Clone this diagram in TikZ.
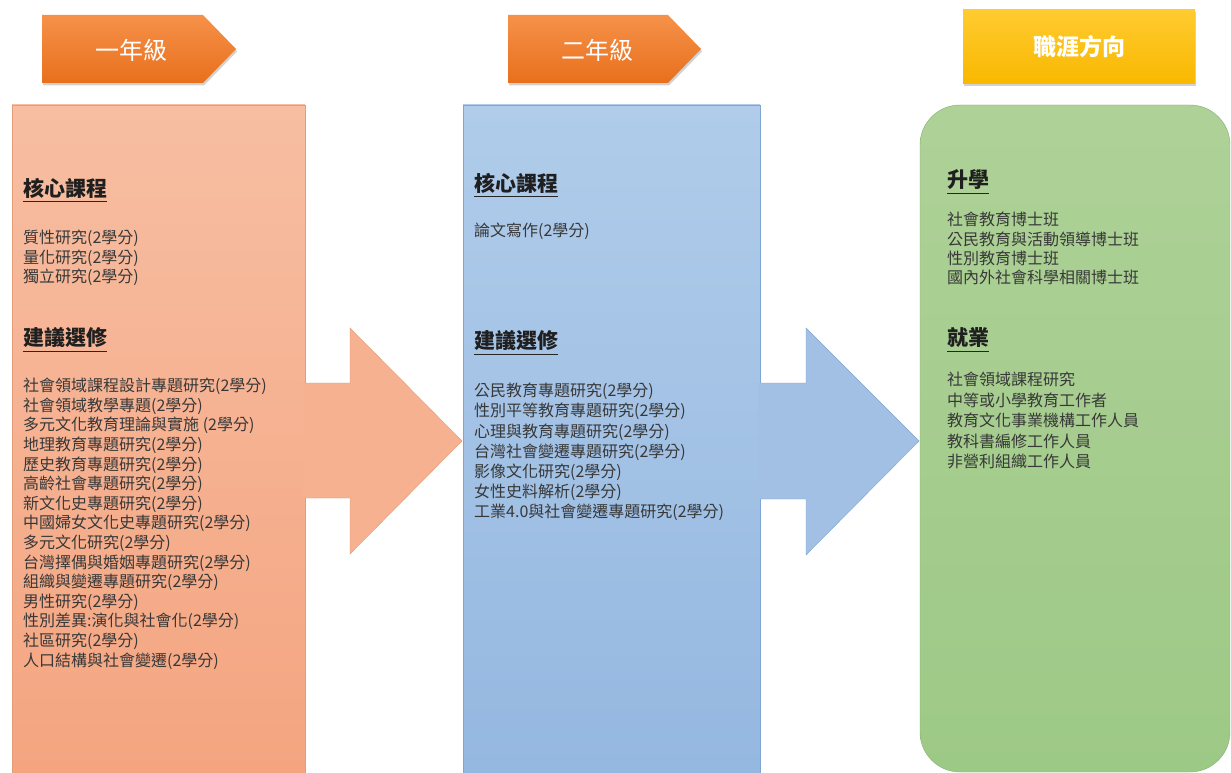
\documentclass[tikz,border=0pt]{standalone}
\usepackage{fontspec}
\setmainfont{Noto Sans CJK TC}
\usetikzlibrary{shadows,positioning}
\definecolor{hdtop}{HTML}{F6914A}
\definecolor{hdbot}{HTML}{E8701C}
\definecolor{ylwtop}{HTML}{FFCB30}
\definecolor{ylwbot}{HTML}{F9B800}
\definecolor{salmontop}{HTML}{F7BEA2}
\definecolor{salmonbot}{HTML}{F4A47F}
\definecolor{salmonline}{HTML}{E39B78}
\definecolor{bluetop}{HTML}{B0CCEA}
\definecolor{bluebot}{HTML}{94B7E0}
\definecolor{blueline}{HTML}{80A5D2}
\definecolor{greentop}{HTML}{AED197}
\definecolor{greenbot}{HTML}{9DC986}
\definecolor{greenline}{HTML}{86B06F}
\definecolor{bodytext}{HTML}{383838}
\tikzset{
  hdshadow/.style={drop shadow={shadow xshift=1pt,shadow yshift=-2.5pt,opacity=0.35}},
  hdtext/.style={text=white,inner sep=0pt,font=\fontsize{24}{24}\selectfont},
  sectitle/.style={anchor=west,inner sep=0pt,text=black!88,font=\fontsize{21}{21}\selectfont\bfseries},
  itemlist/.style={anchor=north west,inner sep=0pt,align=left,text=bodytext,font=\fontsize{16}{19.6}\selectfont},
  uline/.style={draw=black!85,line width=1pt},
}
\begin{document}
\begin{tikzpicture}[x=1pt,y=-1pt]
    \useasboundingbox (0,0) rectangle (1231,773);
    \fill[white] (0,0) rectangle (1231,773);

    \path[hdshadow,top color=hdtop,bottom color=hdbot] (42,15) -- (203,15) -- (236,49) -- (203,83) -- (42,83) -- cycle;
    \node[hdtext] (year1) at (131,50) {一年級};
    \path[hdshadow,top color=hdtop,bottom color=hdbot] (508,15) -- (668,15) -- (701,49) -- (668,83) -- (508,83) -- cycle;
    \node[hdtext] (year2) at (597,50) {二年級};
    \path[hdshadow,top color=ylwtop,bottom color=ylwbot] (963,10) rectangle (1195,84);
    \node[hdtext,font=\fontsize{23}{23}\selectfont\bfseries] (career) at (1079,47) {職涯方向};

    \draw[salmonline,top color=salmontop,bottom color=salmonbot] (12,105) rectangle (305,790);
    \draw[blueline,top color=bluetop,bottom color=bluebot] (463,105) rectangle (760,790);
    \draw[greenline,rounded corners=40pt,top color=greentop,bottom color=greenbot] (920,105) rectangle (1230,772);

    \fill[color=salmontop!50!salmonbot] (303,383) -- (350,383) -- (350,328) -- (462,441) -- (350,554) -- (350,498) -- (303,498) -- cycle;
    \draw[salmonline] (305,383) -- (350,383) -- (350,328) -- (462,441) -- (350,554) -- (350,498) -- (305,498);
    \fill[color=bluetop!45!bluebot] (758,383) -- (806,383) -- (806,328) -- (919,441) -- (806,555) -- (806,499) -- (758,499) -- cycle;
    \draw[blueline] (760,383) -- (806,383) -- (806,328) -- (919,441) -- (806,555) -- (806,499) -- (760,499);

    \node[sectitle] (core1) at (23,188) {核心課程};
    \draw[uline] ([yshift=-3pt]core1.south west) -- ([yshift=-3pt]core1.south east);
    \node[itemlist] (corelist1) at (23,230) {質性研究(2學分)\\量化研究(2學分)\\獨立研究(2學分)};
    \node[sectitle] (elect1) at (23,338) {建議選修};
    \draw[uline] ([yshift=-3pt]elect1.south west) -- ([yshift=-3pt]elect1.south east);
    \node[itemlist] (electlist1) at (23,378) {社會領域課程設計專題研究(2學分)\\社會領域教學專題(2學分)\\多元文化教育理論與實施 (2學分)\\地理教育專題研究(2學分)\\歷史教育專題研究(2學分)\\高齡社會專題研究(2學分)\\新文化史專題研究(2學分)\\中國婦女文化史專題研究(2學分)\\多元文化研究(2學分)\\台灣擇偶與婚姻專題研究(2學分)\\組織與變遷專題研究(2學分)\\男性研究(2學分)\\性別差異:演化與社會化(2學分)\\社區研究(2學分)\\人口結構與社會變遷(2學分)};

    \node[sectitle] (core2) at (474,183) {核心課程};
    \draw[uline] ([yshift=-3pt]core2.south west) -- ([yshift=-3pt]core2.south east);
    \node[itemlist] (corelist2) at (474,223) {論文寫作(2學分)};
    \node[sectitle] (elect2) at (474,341) {建議選修};
    \draw[uline] ([yshift=-3pt]elect2.south west) -- ([yshift=-3pt]elect2.south east);
    \node[itemlist,font=\fontsize{16}{20.1}\selectfont] (electlist2) at (474,383) {公民教育專題研究(2學分)\\性別平等教育專題研究(2學分)\\心理與教育專題研究(2學分)\\台灣社會變遷專題研究(2學分)\\影像文化研究(2學分)\\女性史料解析(2學分)\\工業4.0與社會變遷專題研究(2學分)};

    \node[sectitle] (study) at (947,180) {升學};
    \draw[uline] ([yshift=-3pt]study.south west) -- ([yshift=-3pt]study.south east);
    \node[itemlist,font=\fontsize{16}{19.3}\selectfont] (studylist) at (947,212) {社會教育博士班\\公民教育與活動領導博士班\\性別教育博士班\\國內外社會科學相關博士班};
    \node[sectitle] (job) at (947,338) {就業};
    \draw[uline] ([yshift=-3pt]job.south west) -- ([yshift=-3pt]job.south east);
    \node[itemlist,font=\fontsize{16}{20.5}\selectfont] (joblist) at (947,372) {社會領域課程研究\\中等或小學教育工作者\\教育文化事業機構工作人員\\教科書編修工作人員\\非營利組織工作人員};
\end{tikzpicture}
\end{document}
